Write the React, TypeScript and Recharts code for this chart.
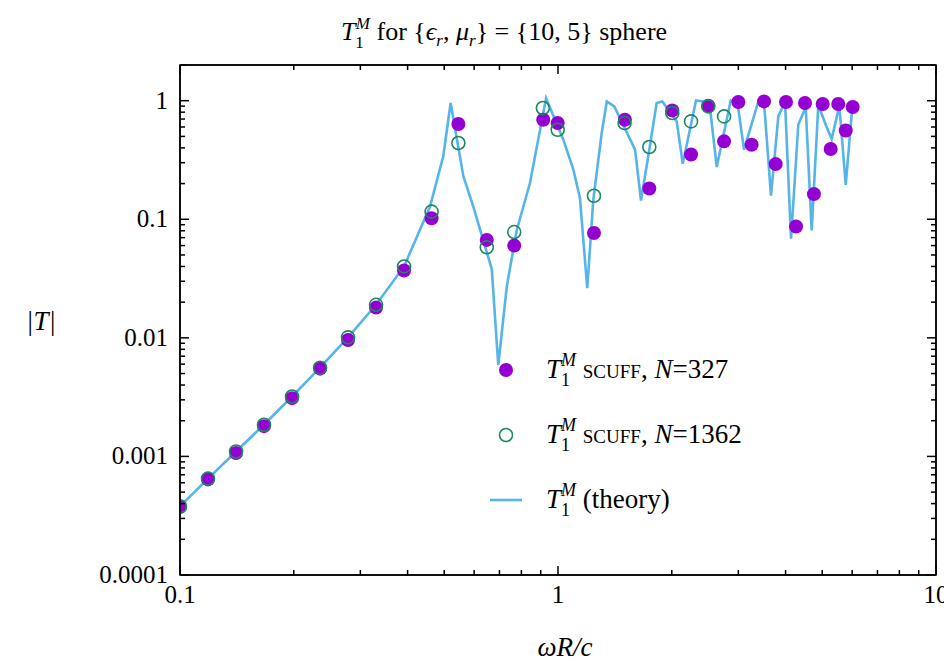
import React from "react";
import { ComposedChart, Line, Scatter, XAxis, YAxis } from "recharts";

const theoryX = [
  0.1, 0.1186, 0.1407, 0.1668, 0.1979, 0.2347, 0.2783, 0.3301, 0.3915, 0.4586,
  0.497, 0.52, 0.562, 0.597, 0.668, 0.695, 0.732, 0.777, 0.843, 0.93,
  1.033, 1.098, 1.143, 1.195, 1.24, 1.305, 1.346, 1.409, 1.599, 1.658,
  1.744, 1.824, 1.888, 2.061, 2.138, 2.318, 2.414, 2.524, 2.63, 2.864,
  2.981, 3.106, 3.388, 3.514, 3.66, 3.827, 3.986, 4.135, 4.322, 4.522,
  4.69, 4.883, 5.108, 5.298, 5.549, 5.77, 6.021,
];
const theoryY = [
  0.00038, 0.00065, 0.0011, 0.00185, 0.0032, 0.0056, 0.0101, 0.019, 0.04, 0.128,
  0.339, 0.957, 0.23, 0.128, 0.038, 0.0059, 0.0271, 0.08, 0.202, 1.05,
  0.469, 0.262, 0.151, 0.0262, 0.146, 0.534, 0.986, 0.895, 0.386, 0.144,
  0.386, 0.957, 0.986, 0.669, 0.294, 1.006, 0.986, 0.868, 0.276, 1.006,
  0.986, 0.386, 0.986, 0.895, 0.158, 0.737, 0.986, 0.0685, 0.627, 0.885,
  0.0804, 0.925, 0.627, 0.475, 0.912, 0.195, 0.968,
];

const n327X = [
  0.1, 0.1186, 0.1407, 0.1668, 0.1979, 0.2347, 0.2783, 0.3301, 0.3915, 0.463,
  0.545, 0.648, 0.766, 0.914, 0.998, 1.245, 1.503, 1.744, 2.006, 2.249,
  2.498, 2.75, 3.0, 3.253, 3.508, 3.766, 4.01, 4.263, 4.502, 4.755,
  5.014, 5.265, 5.514, 5.77, 6.021,
];
const n327Y = [
  0.000375, 0.00064, 0.00107, 0.0018, 0.0031, 0.0055, 0.0096, 0.018, 0.037, 0.102,
  0.636, 0.067, 0.06, 0.691, 0.648, 0.0765, 0.691, 0.182, 0.828, 0.352,
  0.908, 0.454, 0.975, 0.425, 0.986, 0.292, 0.975, 0.087, 0.956, 0.163,
  0.938, 0.391, 0.938, 0.561, 0.885,
];

const n1362X = [
  0.1, 0.1186, 0.1407, 0.1668, 0.1979, 0.2347, 0.2783, 0.3301, 0.3915, 0.463,
  0.545, 0.648, 0.766, 0.912, 0.998, 1.245, 1.5, 1.744, 2.006, 2.249,
  2.498, 2.75,
];
const n1362Y = [
  0.00038, 0.00065, 0.0011, 0.00185, 0.0032, 0.0056, 0.0101, 0.019, 0.04, 0.116,
  0.44, 0.058, 0.078, 0.868, 0.569, 0.158, 0.648, 0.407, 0.788, 0.669,
  0.895, 0.737,
];

const xMajor = [0.1, 1, 10];
const xTicks = [0.1, 0.2, 0.3, 0.4, 0.5, 0.6, 0.7, 0.8, 0.9, 1, 2, 3, 4, 5, 6, 7, 8, 9, 10];
const yMajor = [0.0001, 0.001, 0.01, 0.1, 1];
const yTicks = [
  0.0001, 0.0002, 0.0003, 0.0004, 0.0005, 0.0006, 0.0007, 0.0008, 0.0009,
  0.001, 0.002, 0.003, 0.004, 0.005, 0.006, 0.007, 0.008, 0.009,
  0.01, 0.02, 0.03, 0.04, 0.05, 0.06, 0.07, 0.08, 0.09,
  0.1, 0.2, 0.3, 0.4, 0.5, 0.6, 0.7, 0.8, 0.9, 1, 2,
];

const zip = (xs: number[], ys: number[]) => xs.map((x, i) => ({ x, y: ys[i] }));
const theory = zip(theoryX, theoryY);
const scuff327 = zip(n327X, n327Y);
const scuff1362 = zip(n1362X, n1362Y);

const FONT = "'Liberation Serif', 'DejaVu Serif', serif";
const PURPLE = "#9400d3";
const GREEN = "#1a8a5a";
const BLUE = "#56b4e9";

const isMajor = (v: number, list: number[]) => list.some((m) => Math.abs(m - v) / m < 1e-6);

const XTick = (dir: number, labels: boolean) => (p: any) => {
  const v = p.payload.value;
  const major = isMajor(v, xMajor);
  const len = major ? 9 : 5;
  return (
    <g>
      <line x1={p.x} x2={p.x} y1={p.y} y2={p.y - dir * len} stroke="#000" strokeWidth={1.5} />
      {labels && major && (
        <text x={p.x} y={p.y + 28} textAnchor="middle" fontFamily={FONT} fontSize={25}>
          {v}
        </text>
      )}
    </g>
  );
};

const YTick = (dir: number, labels: boolean) => (p: any) => {
  const v = p.payload.value;
  const major = isMajor(v, yMajor);
  const len = major ? 9 : 5;
  return (
    <g>
      <line x1={p.x} x2={p.x + dir * len} y1={p.y} y2={p.y} stroke="#000" strokeWidth={1.5} />
      {labels && major && (
        <text x={p.x - 12} y={p.y + 8} textAnchor="end" fontFamily={FONT} fontSize={25}>
          {String(v)}
        </text>
      )}
    </g>
  );
};

const Filled = (p: any) => <circle cx={p.cx} cy={p.cy} r={7} fill={PURPLE} />;
const Open = (p: any) => (
  <circle cx={p.cx} cy={p.cy} r={6.5} fill="none" stroke={GREEN} strokeWidth={1.6} />
);

export default function App() {
  return (
    <div style={{ position: "relative", width: 944, height: 660 }}>
      <ComposedChart
        width={944}
        height={660}
        margin={{ top: 56, right: 15, left: 0, bottom: 33 }}
      >
        <XAxis
          xAxisId="b"
          dataKey="x"
          type="number"
          scale="log"
          domain={[0.1, 10]}
          ticks={xTicks}
          interval={0}
          height={60}
          tickSize={0}
          tickMargin={0}
          stroke="#000"
          strokeWidth={1.5}
          tick={XTick(1, true)}
          allowDataOverflow
        />
        <XAxis
          xAxisId="t"
          dataKey="x"
          orientation="top"
          type="number"
          scale="log"
          domain={[0.1, 10]}
          ticks={xTicks}
          interval={0}
          height={1}
          tickSize={0}
          tickMargin={0}
          stroke="#000"
          strokeWidth={1.5}
          tick={XTick(-1, false)}
          allowDataOverflow
        />
        <YAxis
          yAxisId="l"
          dataKey="y"
          type="number"
          scale="log"
          domain={[0.0001, 2]}
          ticks={yTicks}
          interval={0}
          width={172}
          tickSize={0}
          tickMargin={0}
          stroke="#000"
          strokeWidth={1.5}
          tick={YTick(1, true)}
          allowDataOverflow
        />
        <YAxis
          yAxisId="r"
          dataKey="y"
          orientation="right"
          type="number"
          scale="log"
          domain={[0.0001, 2]}
          ticks={yTicks}
          interval={0}
          width={1}
          tickSize={0}
          tickMargin={0}
          stroke="#000"
          strokeWidth={1.5}
          tick={YTick(-1, false)}
          allowDataOverflow
        />
        <Line
          xAxisId="b"
          yAxisId="l"
          data={theory}
          dataKey="y"
          type="linear"
          stroke={BLUE}
          strokeWidth={2.6}
          dot={false}
          isAnimationActive={false}
        />
        <Scatter
          xAxisId="b"
          yAxisId="l"
          data={scuff327}
          dataKey="y"
          shape={Filled}
          isAnimationActive={false}
        />
        <Scatter
          xAxisId="b"
          yAxisId="l"
          data={scuff1362}
          dataKey="y"
          shape={Open}
          isAnimationActive={false}
        />
      </ComposedChart>
      <svg
        width={944}
        height={660}
        style={{ position: "absolute", left: 0, top: 0, pointerEvents: "none" }}
        fontFamily={FONT}
      >
        <rect x={172} y={57} width={756} height={510} fill="none" stroke="#000" strokeWidth={1.5} />
        <text x={496} y={32} textAnchor="middle" fontSize={26}>
          <tspan fontStyle="italic">T</tspan>
          <tspan fontSize={17} dy={8}>1</tspan>
          <tspan fontSize={17} fontStyle="italic" dx={-8} dy={-19}>M</tspan>
          <tspan dy={11}> for {"{"}</tspan>
          <tspan fontStyle="italic">ϵ</tspan>
          <tspan fontSize={17} fontStyle="italic" dy={6}>r</tspan>
          <tspan dy={-6}>, </tspan>
          <tspan fontStyle="italic">μ</tspan>
          <tspan fontSize={17} fontStyle="italic" dy={6}>r</tspan>
          <tspan dy={-6}>{"} = {10, 5} sphere"}</tspan>
        </text>
        <text x={18} y={322} fontSize={27} fontStyle="italic">|T|</text>
        <text x={557} y={648} textAnchor="middle" fontSize={27} fontStyle="italic">ωR/c</text>

        <circle cx={498} cy={362} r={7} fill={PURPLE} />
        <circle cx={498} cy={427} r={6.5} fill="none" stroke={GREEN} strokeWidth={1.6} />
        <line x1={482} x2={514} y1={492} y2={492} stroke={BLUE} strokeWidth={2.6} />
        {[
          { y: 370, n: "327" },
          { y: 435, n: "1362" },
        ].map((r) => (
          <text key={r.n} x={538} y={r.y} fontSize={27}>
            <tspan fontStyle="italic">T</tspan>
            <tspan fontSize={18} dy={8}>1</tspan>
            <tspan fontSize={18} fontStyle="italic" dx={-9} dy={-20}>M</tspan>
            <tspan dy={12} fontVariant="small-caps"> scuff</tspan>
            <tspan>, </tspan>
            <tspan fontStyle="italic">N</tspan>
            <tspan>={r.n}</tspan>
          </text>
        ))}
        <text x={538} y={500} fontSize={27}>
          <tspan fontStyle="italic">T</tspan>
          <tspan fontSize={18} dy={8}>1</tspan>
          <tspan fontSize={18} fontStyle="italic" dx={-9} dy={-20}>M</tspan>
          <tspan dy={12}> (theory)</tspan>
        </text>
      </svg>
    </div>
  );
}
